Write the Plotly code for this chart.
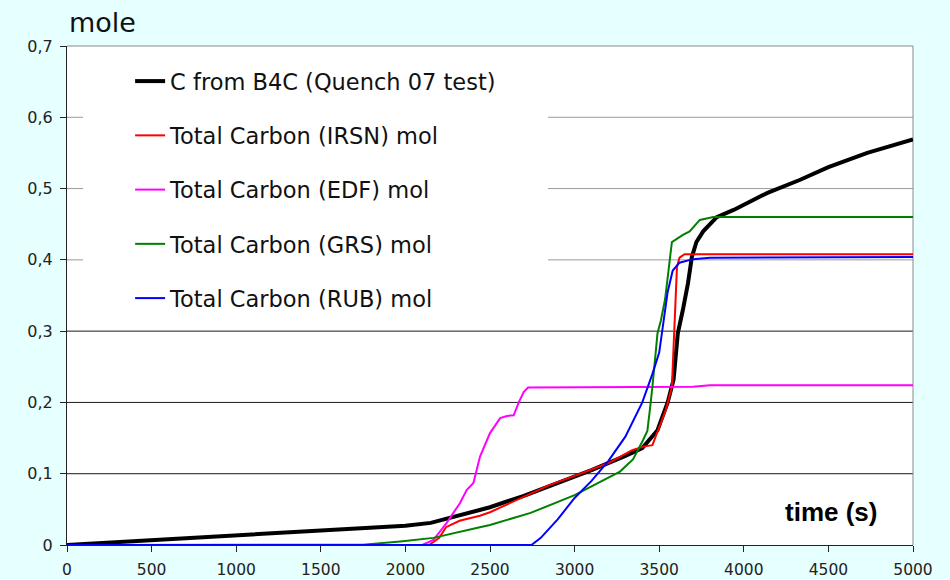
import plotly.graph_objects as go

# ---------------- data ----------------
t_b4c = [0, 500, 1000, 1500, 2000, 2150, 2300, 2500, 2700, 2900, 3100, 3300, 3400, 3490, 3550, 3585,
         3610, 3640, 3670, 3693, 3720, 3760, 3840, 3940, 4140, 4330, 4500, 4730, 5000]
v_b4c = [0, 0.007, 0.013, 0.02, 0.027, 0.031, 0.041, 0.053, 0.069, 0.087, 0.105, 0.125, 0.136, 0.161,
         0.2, 0.232, 0.297, 0.33, 0.367, 0.404, 0.425, 0.44, 0.46, 0.47, 0.494, 0.512, 0.53, 0.55, 0.569]

t_irsn = [0, 2140, 2200, 2240, 2320, 2440, 2500, 2700, 2850, 3000, 3200, 3340, 3405, 3460, 3500, 3540,
          3575, 3590, 3605, 3620, 3650, 3750, 5000]
v_irsn = [0, 0, 0.01, 0.025, 0.034, 0.041, 0.046, 0.068, 0.084, 0.097, 0.115, 0.133, 0.138, 0.14,
          0.165, 0.19, 0.222, 0.3, 0.39, 0.403, 0.408, 0.408, 0.408]

t_edf = [0, 2100, 2165, 2244, 2323, 2362, 2402, 2441, 2500, 2540, 2560, 2600, 2640, 2670, 2700, 2725,
         3650, 3700, 3800, 5000]
v_edf = [0, 0, 0.007, 0.031, 0.059, 0.077, 0.087, 0.124, 0.157, 0.172, 0.178, 0.181, 0.182, 0.2, 0.215,
         0.221, 0.221, 0.222, 0.224, 0.224]

t_grs = [0, 1750, 1970, 2165, 2440, 2500, 2740, 3000, 3268, 3345, 3404, 3430, 3445, 3460, 3490, 3510,
         3535, 3555, 3575, 3640, 3680, 3740, 3820, 5000]
v_grs = [0, 0.0005, 0.005, 0.01, 0.025, 0.028, 0.045, 0.07, 0.103, 0.12, 0.147, 0.16, 0.19, 0.222,
         0.297, 0.315, 0.345, 0.39, 0.425, 0.435, 0.44, 0.456, 0.46, 0.46]

t_rub = [0, 2745, 2800, 2900, 3000, 3100, 3200, 3300, 3400, 3460, 3500, 3525, 3550, 3580, 3620, 3700,
         3800, 5000]
v_rub = [0, 0, 0.01, 0.036, 0.066, 0.09, 0.118, 0.152, 0.2, 0.24, 0.27, 0.315, 0.355, 0.385, 0.396,
         0.401, 0.403, 0.404]

series_names = ["C from B4C (Quench 07 test)", "Total Carbon (IRSN) mol", "Total Carbon (EDF) mol",
                "Total Carbon (GRS) mol", "Total Carbon (RUB) mol"]

x_tickvals = [0, 500, 1000, 1500, 2000, 2500, 3000, 3500, 4000, 4500, 5000]
x_ticktext = ["0", "500", "1000", "1500", "2000", "2500", "3000", "3500", "4000", "4500", "5000"]
y_tickvals = [0, 0.1, 0.2, 0.3, 0.4, 0.5, 0.6, 0.7]
y_ticktext = ["0", "0,1", "0,2", "0,3", "0,4", "0,5", "0,6", "0,7"]

# ---------------- figure ----------------
colors = ["#000000", "#FF0000", "#FF00FF", "#008000", "#0000FF"]
widths = [4, 2, 2, 2, 2]
xs = [t_b4c, t_irsn, t_edf, t_grs, t_rub]
ys = [v_b4c, v_irsn, v_edf, v_grs, v_rub]

fig = go.Figure()
for i in range(5):
    fig.add_trace(go.Scatter(x=xs[i], y=ys[i], mode="lines", name=series_names[i],
                             legendgroup=f"g{i}",
                             line=dict(color=colors[i], width=widths[i])))

shapes = []
for gv in y_tickvals[1:-1]:
    col = "#1a1a1a" if gv < 0.35 else "#9a9a9a"
    shapes.append(dict(type="line", xref="paper", yref="y", x0=0, x1=1, y0=gv, y1=gv,
                       line=dict(color=col, width=1), layer="below"))
# white area behind the legend
shapes.append(dict(type="rect", xref="paper", yref="y", x0=0.019, x1=0.5686, y0=0.31, y1=0.699,
                   fillcolor="white", line=dict(width=0), layer="between"))
# top and right border
shapes.append(dict(type="line", xref="paper", yref="paper", x0=0, x1=1, y0=1, y1=1,
                   line=dict(color="#8a8a8a", width=1), layer="between"))
shapes.append(dict(type="line", xref="paper", yref="paper", x0=1, x1=1, y0=0, y1=1,
                   line=dict(color="#8a8a8a", width=1), layer="between"))

fig.update_layout(
    width=950, height=580,
    margin=dict(l=67, r=37, t=46, b=35, autoexpand=False),
    paper_bgcolor="#E6FFFF",
    plot_bgcolor="white",
    font=dict(family="DejaVu Sans", color="#222222"),
    shapes=shapes,
    showlegend=True,
    legend=dict(x=0.0746, y=0.972, xanchor="left", yanchor="top",
                bgcolor="rgba(0,0,0,0)", borderwidth=0,
                font=dict(family="DejaVu Sans", size=22.5, color="#111111"),
                tracegroupgap=22, itemwidth=30),
    xaxis=dict(range=[0, 5000], tickvals=x_tickvals, ticktext=x_ticktext,
               showgrid=False, zeroline=False, showline=True, linecolor="#222222", linewidth=1,
               ticks="outside", ticklen=6, tickcolor="#222222", automargin=False,
               ticklabelstandoff=4,
               tickfont=dict(size=15.5, family="DejaVu Sans", color="#222222"),
               layer="below traces"),
    yaxis=dict(range=[0, 0.7], tickvals=y_tickvals, ticktext=y_ticktext,
               showgrid=False, zeroline=False, showline=True, linecolor="#222222", linewidth=1,
               ticks="outside", ticklen=6, tickcolor="#222222", automargin=False,
               ticklabelstandoff=4,
               tickfont=dict(size=16, family="DejaVu Sans", color="#222222"),
               layer="below traces"),
    annotations=[
        dict(text="mole", xref="paper", yref="paper", x=0, y=1, xanchor="left", yanchor="bottom",
             yshift=6, showarrow=False, font=dict(family="DejaVu Sans", size=27, color="#111111")),
        dict(text="<b>time (s)</b>", xref="paper", yref="paper", x=0.903, y=0.066,
             xanchor="center", yanchor="middle", showarrow=False,
             font=dict(family="Liberation Sans", size=26, color="#000000")),
    ],
)

fig.write_html("out.html", config={"displayModeBar": False},
               post_script="document.body.style.margin='0';document.body.style.background='#E6FFFF';")
